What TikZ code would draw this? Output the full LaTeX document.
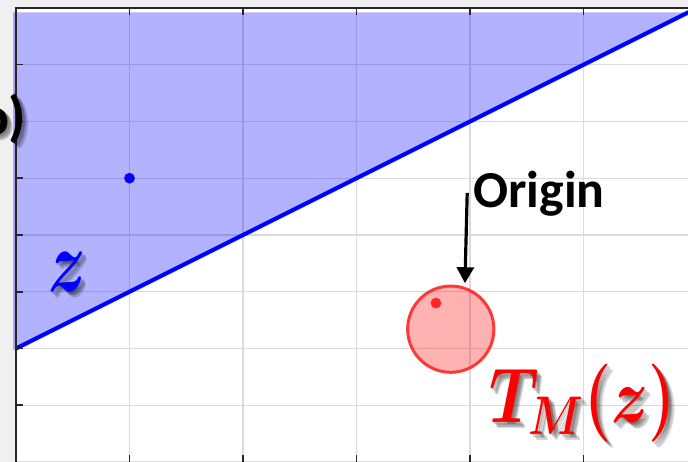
\RequirePackage{fix-cm}
\documentclass[tikz,border=0pt]{standalone}
\usepackage{fontspec}
\setsansfont{Carlito}
\usepackage{amsmath}
\usepackage{amssymb}
\usetikzlibrary{arrows.meta, positioning, calc}
\definecolor{PanelGray}{RGB}{240,240,240}
\definecolor{GridGray}{RGB}{218,218,218}
\definecolor{AxisGray}{RGB}{38,38,38}
\definecolor{PlaneBlue}{RGB}{0,0,255}
\definecolor{DiskRed}{RGB}{255,40,40}
\newcommand{\zsym}{\scalebox{0.72}[1]{$\boldsymbol{z}$}}
\newcommand{\tsym}{\scalebox{0.8}[1]{$\boldsymbol{T_M(z)}$}}

\begin{document}
\begin{tikzpicture}[
    gridline/.style={draw=GridGray, line width=0.6pt},
    axisline/.style={draw=AxisGray, line width=0.8pt},
    boundary/.style={draw=PlaneBlue, line width=2.1pt},
    halo/.style={text=black, opacity=0.17, inner sep=0pt},
    dot/.style={circle, inner sep=0pt, minimum size=0.19cm},
    pointer/.style={-{Triangle[width=8.5pt,length=8pt]}, line width=1.6pt, draw=black},
    bigmath/.style={font=\fontsize{#1}{#1}\selectfont, inner sep=0pt, anchor=base west}
]
    \useasboundingbox (-0.282,0) rectangle (11.84,8.14);
    \clip (-0.282,0) rectangle (11.84,8.14);
    \fill[PanelGray] (-0.282,0) rectangle (11.84,8.14);
    \fill[white] (0,-0.1) rectangle (12,8);
    \draw[gridline] (0,0) grid[xstep=2, ystep=1] (11.84,8);

    % half plane and its boundary
    \fill[PlaneBlue, fill opacity=0.3] (-0.05,1.97) -- (11.84,7.92) -- (-0.05,7.92) -- cycle;
    \draw[boundary] (0,2) -- (11.9,7.95);

    % axes
    \draw[axisline] (0,-0.1) -- (0,8) -- (12,8);
    \foreach \y in {1,...,7} \draw[axisline] (0,\y) -- (0.12,\y);
    \foreach \x in {2,4,...,10} {
        \draw[axisline] (\x,8) -- (\x,7.88);
        \draw[axisline] (\x,0) -- (\x,0.12);
    }

    \node[dot, fill=PlaneBlue] (zpoint) at (2,5) {};
    \node[circle, draw=DiskRed, draw opacity=0.9, line width=1.5pt, fill=red, fill opacity=0.3,
          minimum size=1.52cm, inner sep=0pt] (disk) at (7.66,2.34) {};
    \node[dot, fill=DiskRed] (image) at (7.40,2.80) {};

    \node[font=\sffamily\bfseries\fontsize{26}{26}\selectfont, anchor=base west, inner sep=0pt] (origin) at (8.05,4.48) {Origin};
    \coordinate (tail) at (7.95,4.74);
    \coordinate (tip) at (7.91,3.15);
    \draw[pointer] (tail) -- (tip);

    % labels with soft shadows
    \coordinate (cutpos) at (0.18,5.76);
    \coordinate (zpos) at (0.56,3.0);
    \coordinate (tpos) at (8.33,0.69);
    \foreach \d in {1,...,4} {
        \node[halo, anchor=base east, font=\sffamily\bfseries\fontsize{28}{28}\selectfont] at ($(cutpos)+(0.025*\d,-0.025*\d)$) {o)};
        \node[halo, bigmath=44] at ($(zpos)+(0.025*\d,-0.025*\d)$) {\zsym};
        \node[halo, bigmath=39] at ($(tpos)+(0.025*\d,-0.025*\d)$) {\tsym};
    }
    \node[anchor=base east, inner sep=0pt, font=\sffamily\bfseries\fontsize{28}{28}\selectfont] (cut) at (cutpos) {o)};
    \node[bigmath=44, text=PlaneBlue] (zlabel) at (zpos) {\zsym};
    \node[bigmath=39, text=red] (tlabel) at (tpos) {\tsym};
\end{tikzpicture}
\end{document}
